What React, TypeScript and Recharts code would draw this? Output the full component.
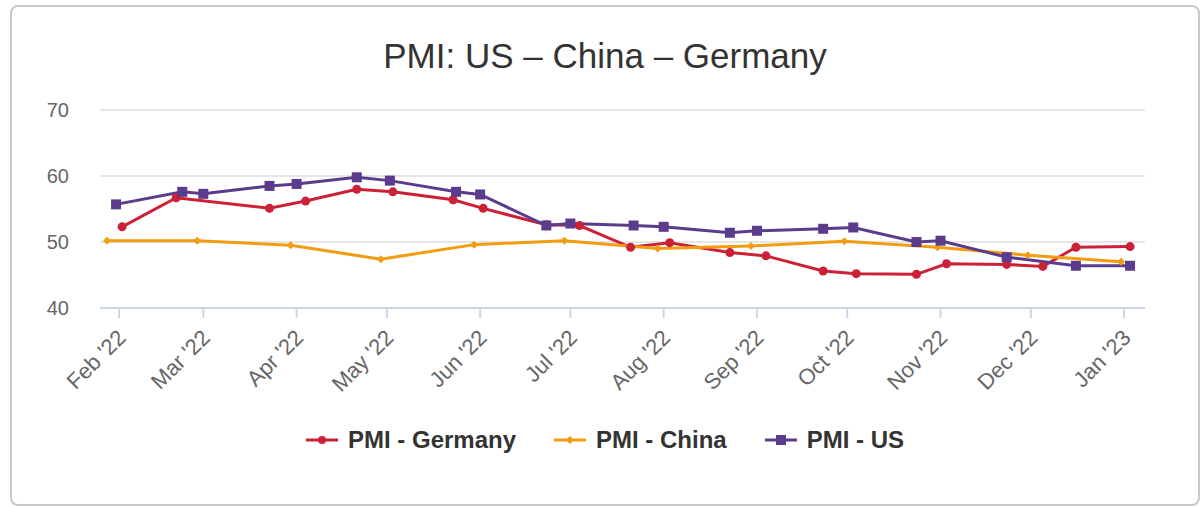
import { CartesianGrid, Line, LineChart, XAxis, YAxis } from "recharts"

const germanyDates = [
  "2022-02-02", "2022-02-20", "2022-03-23", "2022-04-04", "2022-04-21", "2022-05-03",
  "2022-05-23", "2022-06-02", "2022-06-23", "2022-07-04", "2022-07-21", "2022-08-03",
  "2022-08-23", "2022-09-04", "2022-09-23", "2022-10-04", "2022-10-24", "2022-11-03",
  "2022-11-23", "2022-12-05", "2022-12-16", "2023-01-03",
]
const germanyValues = [
  52.3, 56.7, 55.1, 56.2, 58.0, 57.6, 56.4, 55.1, 52.6, 52.5, 49.2, 49.9,
  48.4, 47.9, 45.6, 45.2, 45.1, 46.7, 46.6, 46.3, 49.2, 49.3,
]

const chinaDates = [
  "2022-01-28", "2022-02-27", "2022-03-30", "2022-04-29", "2022-05-30", "2022-06-29",
  "2022-07-30", "2022-08-30", "2022-09-30", "2022-10-31", "2022-11-30", "2022-12-31",
]
const chinaValues = [50.2, 50.2, 49.5, 47.4, 49.6, 50.2, 49.0, 49.4, 50.1, 49.2, 48.0, 47.0]

const usDates = [
  "2022-01-31", "2022-02-22", "2022-03-01", "2022-03-23", "2022-04-01", "2022-04-21",
  "2022-05-02", "2022-05-24", "2022-06-01", "2022-06-23", "2022-07-01", "2022-07-22",
  "2022-08-01", "2022-08-23", "2022-09-01", "2022-09-23", "2022-10-03", "2022-10-24",
  "2022-11-01", "2022-11-23", "2022-12-16", "2023-01-03",
]
const usValues = [
  55.7, 57.6, 57.3, 58.5, 58.8, 59.8, 59.3, 57.6, 57.2, 52.5, 52.8, 52.5,
  52.3, 51.4, 51.7, 52.0, 52.2, 50.0, 50.2, 47.7, 46.4, 46.4,
]

const monthTicks = [
  "2022-02-01", "2022-03-01", "2022-04-01", "2022-05-01", "2022-06-01", "2022-07-01",
  "2022-08-01", "2022-09-01", "2022-10-01", "2022-11-01", "2022-12-01", "2023-01-01",
]
const yTicks = [40, 50, 60, 70]

const MONTHS = ["Jan", "Feb", "Mar", "Apr", "May", "Jun", "Jul", "Aug", "Sep", "Oct", "Nov", "Dec"]
const ts = (d: string) => Date.parse(d + "T00:00:00Z")
const toRows = (dates: string[], values: number[]) =>
  dates.map((d, i) => ({ t: ts(d), v: values[i] }))

const germany = toRows(germanyDates, germanyValues)
const china = toRows(chinaDates, chinaValues)
const us = toRows(usDates, usValues)

const RED = "#cc2036"
const ORANGE = "#f39c12"
const PURPLE = "#5b3c8c"
const FONT = "'Liberation Sans', Arial, sans-serif"

const fmtMonth = (t: number) => {
  const d = new Date(t)
  return `${MONTHS[d.getUTCMonth()]} '${String(d.getUTCFullYear()).slice(2)}`
}

const SquareDot = (props: any) => {
  const { cx, cy, index } = props
  if (cx == null || cy == null) return <g key={index} />
  return <rect key={index} x={cx - 5} y={cy - 5} width={10} height={10} fill={PURPLE} />
}

const DiamondDot = (props: any) => {
  const { cx, cy, index } = props
  if (cx == null || cy == null) return <g key={index} />
  return (
    <path
      key={index}
      d={`M${cx},${cy - 4} L${cx + 4},${cy} L${cx},${cy + 4} L${cx - 4},${cy} Z`}
      fill={ORANGE}
    />
  )
}

const legendItems = [
  { name: "PMI - Germany", color: RED, shape: "circle" },
  { name: "PMI - China", color: ORANGE, shape: "diamond" },
  { name: "PMI - US", color: PURPLE, shape: "square" },
]

const ChartLegend = () => (
  <div
    style={{
      position: "absolute",
      left: 0,
      top: 426,
      width: 1210,
      display: "flex",
      justifyContent: "center",
      gap: 38,
      fontFamily: FONT,
    }}
  >
    {legendItems.map((it) => (
      <div key={it.name} style={{ display: "flex", alignItems: "center" }}>
        <svg width={32} height={14} style={{ marginRight: 10 }}>
          <line x1={0} y1={7} x2={32} y2={7} stroke={it.color} strokeWidth={3} />
          {it.shape === "circle" && <circle cx={16} cy={7} r={4} fill={it.color} />}
          {it.shape === "diamond" && <path d="M16,3 L20,7 L16,11 L12,7 Z" fill={it.color} />}
          {it.shape === "square" && <rect x={11} y={2} width={10} height={10} fill={it.color} />}
        </svg>
        <span style={{ fontSize: 24, fontWeight: 700, color: "#333" }}>{it.name}</span>
      </div>
    ))}
  </div>
)

export default function App() {
  return (
    <div style={{ position: "absolute", left: 0, top: 0, width: 1200, height: 507, background: "#fff" }}>
      <div
        style={{
          position: "absolute",
          left: 10,
          top: 5,
          width: 1190,
          height: 501,
          border: "2px solid #c8c8c8",
          borderRadius: 8,
          boxSizing: "border-box",
        }}
      />
      <div
        style={{
          position: "absolute",
          left: 0,
          top: 36,
          width: 1210,
          textAlign: "center",
          fontFamily: FONT,
          fontSize: 35,
          color: "#333",
        }}
      >
        PMI: US – China – Germany
      </div>
      <div style={{ position: "absolute", left: 0, top: 0 }}>
        <LineChart width={1200} height={507} margin={{ top: 110, right: 55, bottom: 99, left: 40 }}>
          <CartesianGrid vertical={false} stroke="#e6e6e6" strokeWidth={2} />
          <XAxis
            dataKey="t"
            type="number"
            scale="time"
            domain={[ts("2022-01-25") + 16 * 3600e3, ts("2023-01-07") + 23 * 3600e3]}
            ticks={monthTicks.map(ts)}
            tickFormatter={fmtMonth}
            allowDataOverflow
            stroke="#ccd6eb"
            strokeWidth={2}
            tickSize={10}
            tickMargin={10}
            angle={-45}
            textAnchor="end"
            height={100}
            tick={{ fill: "#666", fontSize: 22, fontFamily: FONT, dx: -3 }}
          />
          <YAxis
            type="number"
            domain={[40, 70]}
            ticks={yTicks}
            width={60}
            axisLine={false}
            tickLine={false}
            tickMargin={25}
            tick={{ fill: "#666", fontSize: 20, fontFamily: FONT }}
          />
          <Line
            data={germany}
            dataKey="v"
            name="PMI - Germany"
            stroke={RED}
            strokeWidth={3}
            dot={{ r: 4.5, fill: RED, stroke: RED, strokeWidth: 0 }}
            activeDot={false}
            isAnimationActive={false}
          />
          <Line
            data={china}
            dataKey="v"
            name="PMI - China"
            stroke={ORANGE}
            strokeWidth={3}
            dot={<DiamondDot />}
            activeDot={false}
            isAnimationActive={false}
          />
          <Line
            data={us}
            dataKey="v"
            name="PMI - US"
            stroke={PURPLE}
            strokeWidth={3}
            dot={<SquareDot />}
            activeDot={false}
            isAnimationActive={false}
          />
        </LineChart>
      </div>
      <ChartLegend />
    </div>
  )
}
